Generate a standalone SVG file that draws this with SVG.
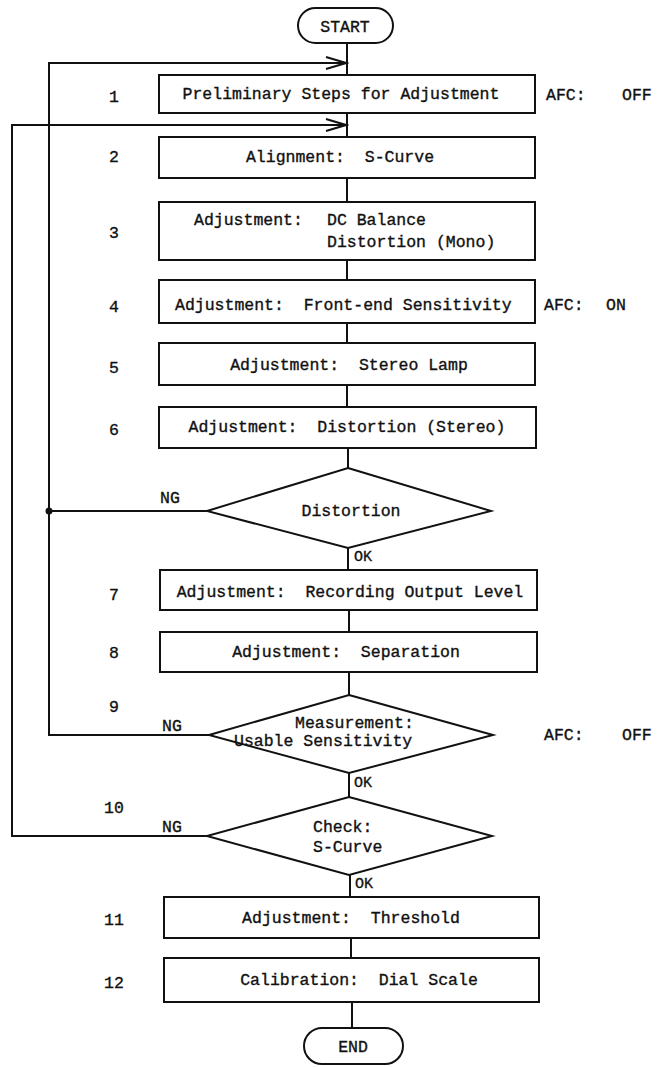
<svg xmlns="http://www.w3.org/2000/svg" width="661" height="1067" viewBox="0 0 661 1067">
<style>
.b{fill:#fff;stroke:#111;stroke-width:2}
.c{fill:none;stroke:#111;stroke-width:2}
text{font-family:"Liberation Mono","DejaVu Sans Mono",monospace;font-size:16.5px;fill:#111;stroke:#111;stroke-width:0.35}
.m{text-anchor:middle}
.s{font-size:15px}
</style>
<defs>
<marker id="ah" markerUnits="userSpaceOnUse" markerWidth="24" markerHeight="16" refX="21" refY="8" orient="auto">
<path d="M1,2 L21,8 L1,14" fill="none" stroke="#111" stroke-width="2"/>
</marker>
</defs>
<rect width="661" height="1067" fill="#fff"/>
<g id="connectors">
<line class="c" x1="347" y1="43" x2="347" y2="75"/>
<line class="c" x1="347" y1="113" x2="347" y2="137"/>
<line class="c" x1="347" y1="178" x2="347" y2="202"/>
<line class="c" x1="347" y1="260" x2="347" y2="280"/>
<line class="c" x1="347" y1="323" x2="347" y2="343"/>
<line class="c" x1="347" y1="385" x2="347" y2="407"/>
<line class="c" x1="348" y1="448" x2="348" y2="468"/>
<line class="c" x1="348" y1="548" x2="348" y2="570"/>
<line class="c" x1="349" y1="610" x2="349" y2="632"/>
<line class="c" x1="349" y1="672" x2="349" y2="695"/>
<line class="c" x1="349" y1="773" x2="349" y2="797"/>
<line class="c" x1="350" y1="875" x2="350" y2="897"/>
<line class="c" x1="351" y1="938" x2="351" y2="958"/>
<line class="c" x1="352" y1="1002" x2="352" y2="1028"/>
<line class="c" x1="207" y1="511" x2="49" y2="511"/>
<circle cx="49" cy="511" r="3.5" fill="#111"/>
<polyline class="c" points="209,735 49,735 49,63 346,63" marker-end="url(#ah)"/>
<polyline class="c" points="207,836 12,836 12,125 346,125" marker-end="url(#ah)"/>
<text x="160" y="503">NG</text>
<text x="162" y="731">NG</text>
<text x="162" y="832">NG</text>
<text class="s" x="354" y="561">OK</text>
<text class="s" x="354" y="787">OK</text>
<text class="s" x="355" y="888">OK</text>
</g>
<g id="start">
<rect class="b" x="298" y="8" width="95" height="35" rx="17.5"/>
<text class="m" x="345" y="32">START</text>
</g>
<g id="step1">
<text class="m" x="114" y="102">1</text>
<rect class="b" x="159" y="75" width="376" height="38"/>
<text class="m" x="341" y="99">Preliminary Steps for Adjustment</text>
<text x="546" y="100" xml:space="preserve">AFC:  <tspan x="622">OFF</tspan></text>
</g>
<g id="step2">
<text class="m" x="114" y="162">2</text>
<rect class="b" x="159" y="137" width="376" height="41"/>
<text class="m" x="340" y="162" xml:space="preserve">Alignment:  S-Curve</text>
</g>
<g id="step3">
<text class="m" x="114" y="238">3</text>
<rect class="b" x="159" y="202" width="376" height="58"/>
<text x="194" y="225">Adjustment:<tspan x="327">DC Balance</tspan></text>
<text x="327" y="247">Distortion (Mono)</text>
</g>
<g id="step4">
<text class="m" x="114" y="312">4</text>
<rect class="b" x="159" y="280" width="376" height="43"/>
<text x="175" y="310" xml:space="preserve">Adjustment:  Front-end Sensitivity</text>
<text x="544" y="310" xml:space="preserve">AFC:  <tspan x="606">ON</tspan></text>
</g>
<g id="step5">
<text class="m" x="114" y="373">5</text>
<rect class="b" x="159" y="343" width="376" height="42"/>
<text class="m" x="349" y="370" xml:space="preserve">Adjustment:  Stereo Lamp</text>
</g>
<g id="step6">
<text class="m" x="114" y="435">6</text>
<rect class="b" x="159" y="407" width="377" height="41"/>
<text class="m" x="347" y="432" xml:space="preserve">Adjustment:  Distortion (Stereo)</text>
</g>
<g id="check-distortion">
<polygon class="b" points="348,468 491,511 348,548 207,511"/>
<text class="m" x="351" y="516">Distortion</text>
</g>
<g id="step7">
<text class="m" x="114" y="600">7</text>
<rect class="b" x="160" y="570" width="377" height="40"/>
<text class="m" x="350" y="597" xml:space="preserve">Adjustment:  Recording Output Level</text>
</g>
<g id="step8">
<text class="m" x="114" y="658">8</text>
<rect class="b" x="160" y="632" width="377" height="40"/>
<text class="m" x="346" y="657" xml:space="preserve">Adjustment:  Separation</text>
</g>
<g id="step9">
<text class="m" x="114" y="712">9</text>
<polygon class="b" points="349,695 493,735 349,773 209,735"/>
<text x="295" y="728">Measurement:</text>
<text x="234" y="746">Usable Sensitivity</text>
<text x="544" y="740" xml:space="preserve">AFC:  <tspan x="622">OFF</tspan></text>
</g>
<g id="step10">
<text class="m" x="114" y="813">10</text>
<polygon class="b" points="349,797 492,836 349,875 207,836"/>
<text x="313" y="832">Check:</text>
<text x="313" y="852">S-Curve</text>
</g>
<g id="step11">
<text class="m" x="114" y="925">11</text>
<rect class="b" x="164" y="897" width="375" height="41"/>
<text class="m" x="351" y="923" xml:space="preserve">Adjustment:  Threshold</text>
</g>
<g id="step12">
<text class="m" x="114" y="988">12</text>
<rect class="b" x="164" y="958" width="375" height="44"/>
<text class="m" x="359" y="985" xml:space="preserve">Calibration:  Dial Scale</text>
</g>
<g id="end">
<rect class="b" x="304" y="1028" width="99" height="36" rx="18"/>
<text class="m" x="353" y="1052">END</text>
</g>
</svg>
